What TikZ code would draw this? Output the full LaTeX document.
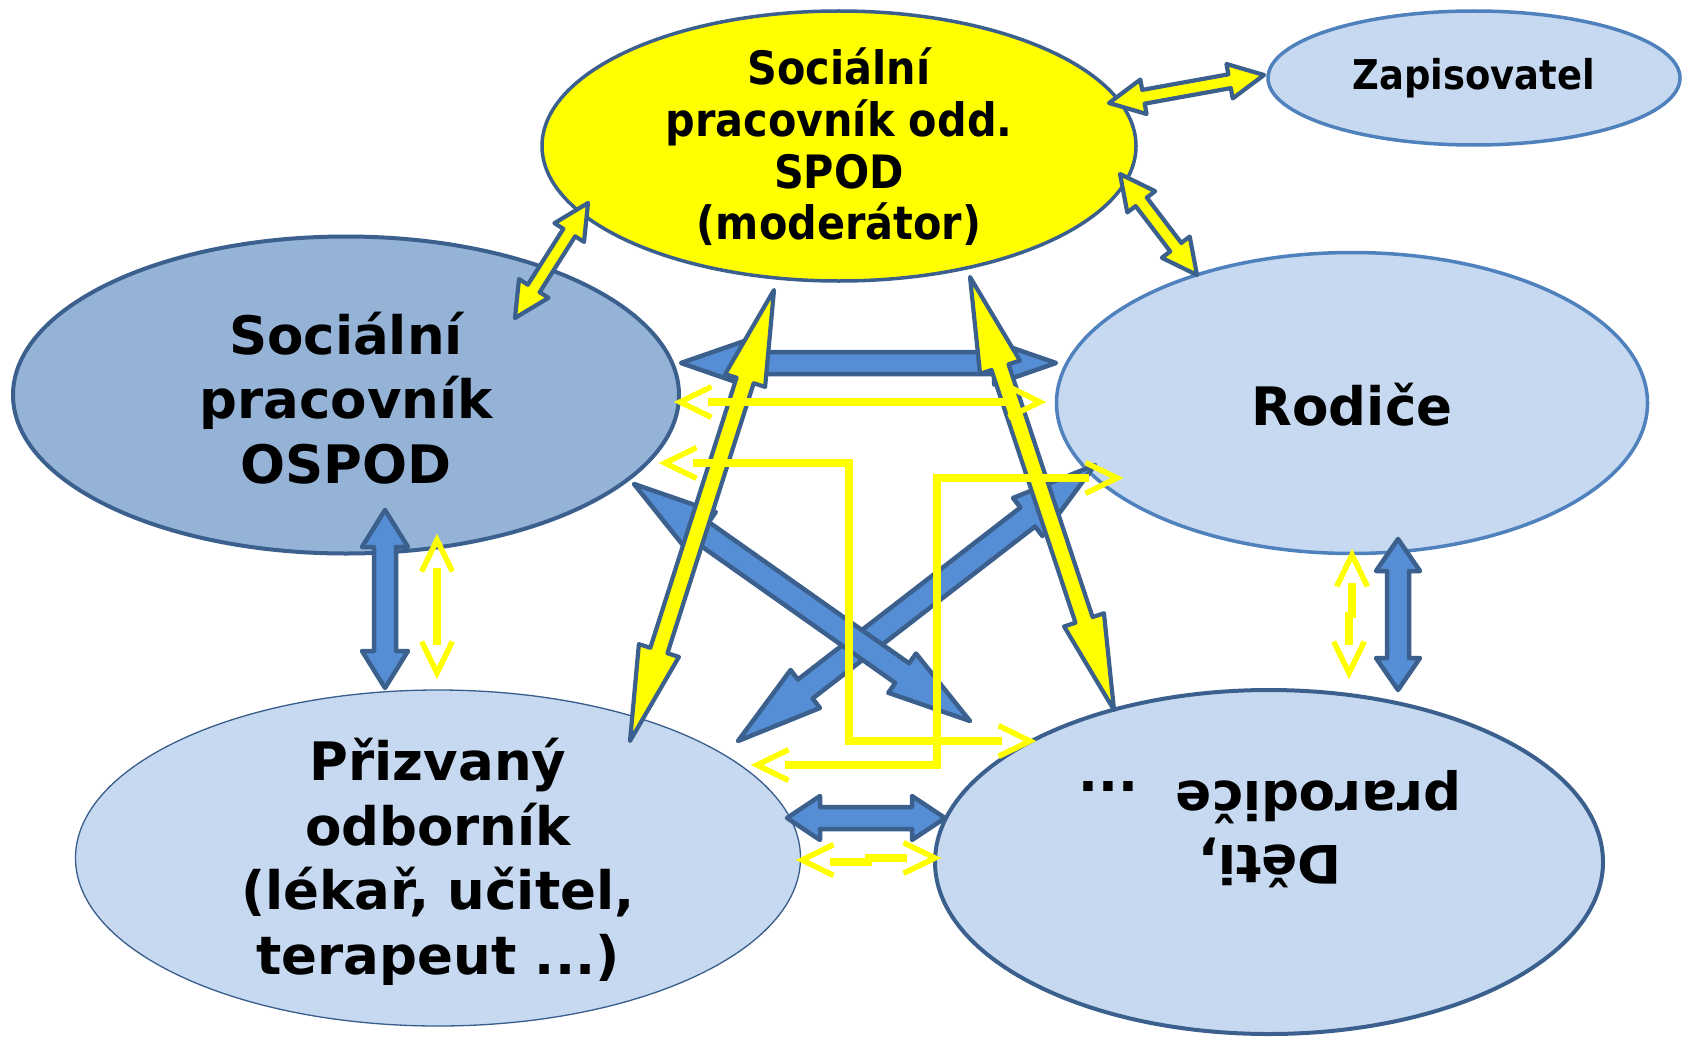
\documentclass[tikz,border=0pt]{standalone}
\usepackage{fontspec}
\setmainfont{DejaVu Sans}
\newfontfamily\condfont{DejaVu Sans Condensed}
\usetikzlibrary{calc,shapes.geometric}

\definecolor{bdark}{HTML}{3C608E}
\definecolor{bfill}{HTML}{558ED5}
\definecolor{ylw}{HTML}{FFFF00}
\definecolor{lightb}{HTML}{C6D9F1}
\definecolor{midb}{HTML}{95B3D7}
\definecolor{edgeb}{HTML}{4F81BD}
\definecolor{thinb}{HTML}{385D8A}

% #1 style, #2 from, #3 to, #4 shaft half width, #5 head half width, #6 head length
\newcommand\blockarrow[6]{%
  \coordinate (bap) at ($(#2)!#6!(#3)$);
  \coordinate (baq) at ($(#3)!#6!(#2)$);
  \path[#1] (#2) -- ($(bap)!#5!90:(#3)$) -- ($(bap)!#4!90:(#3)$)
    -- ($(baq)!#4!-90:(#2)$) -- ($(baq)!#5!-90:(#2)$) -- (#3)
    -- ($(baq)!#5!90:(#2)$) -- ($(baq)!#4!90:(#2)$)
    -- ($(bap)!#4!-90:(#3)$) -- ($(bap)!#5!-90:(#3)$) -- cycle;
}
% open chevron: tip #1, opening toward #2
\newcommand\chev[2]{%
  \draw[ychev] ($(#1)!35pt!26:(#2)$) -- (#1) -- ($(#1)!35pt!-26:(#2)$);
}

\begin{document}
\begin{tikzpicture}[x=1pt,y=-1pt,
  ell/.style={ellipse, inner sep=0pt, outer sep=0pt},
  btxt/.style={font=\bfseries\fontsize{53}{64.5}\selectfont, align=center, text=black, inner sep=0pt},
  ctxt/.style={font=\condfont\bfseries\fontsize{46}{51.6}\selectfont, align=center, text=black, inner sep=0pt},
  bluearr/.style={fill=bfill, draw=bdark, line width=4.5pt, line join=round},
  yblock/.style={fill=ylw, draw=bdark, line width=4.2pt, line join=round},
  yshaft/.style={draw=ylw, line width=7.3pt},
  ychev/.style={draw=ylw, line width=5.5pt, line join=miter},
]
\fill[white] (0,0) rectangle (1685,1038);
\useasboundingbox (0,0) rectangle (1685,1038);

% ---------- ellipses ----------
\node[ell, minimum width=594pt, minimum height=270pt, fill=ylw, draw=bdark, line width=3.5pt] (spod) at (839,146) {};
\node[ell, minimum width=412pt, minimum height=134pt, fill=lightb, draw=edgeb, line width=3.5pt] (zap) at (1474,78) {};
\node[ell, minimum width=666pt, minimum height=317pt, fill=midb, draw=bdark, line width=4pt] (ospod) at (346,395) {};
\node[ell, minimum width=591pt, minimum height=301pt, fill=lightb, draw=edgeb, line width=3.5pt] (rod) at (1352,403) {};
\node[ell, minimum width=725pt, minimum height=336pt, fill=lightb, draw=thinb, line width=1.3pt] (priz) at (438,858) {};
\node[ell, minimum width=668pt, minimum height=344pt, fill=lightb, draw=bdark, line width=4pt] (deti) at (1269,862) {};

% ---------- texts ----------
\node[ctxt] (spodt) at (839,147) {Sociální\\pracovník odd.\\SPOD\\(moderátor)};
\node[ctxt, font=\condfont\bfseries\fontsize{41}{48}\selectfont] (zapt) at (1474,78) {Zapisovatel};
\node[btxt] (ospodt) at (346,398) {Sociální\\pracovník\\OSPOD};
\node[btxt] (rodt) at (1352,405) {Rodiče};
\node[btxt] (prizt) at (438,862) {Přizvaný\\odborník\\(lékař, učitel,\\terapeut ...)};
\node[btxt, rotate=180] (detit) at (1270,829) {Děti,\\prarodiče~~...};

% ---------- connector end points ----------
\coordinate (d1) at (681,363);  \coordinate (d2) at (1056,363);
\coordinate (e1) at (634,484);  \coordinate (e2) at (970,721);
\coordinate (f1) at (1095,465); \coordinate (f2) at (738,741);
\coordinate (g1) at (385,510);  \coordinate (g2) at (385,688);
\coordinate (h1) at (1398,539); \coordinate (h2) at (1398,690);
\coordinate (i1) at (787,818);  \coordinate (i2) at (945,818);
\coordinate (a1) at (1109,103); \coordinate (a2) at (1264,75);
\coordinate (b1) at (588,203);  \coordinate (b2) at (515,318);
\coordinate (c1) at (1120,174); \coordinate (c2) at (1197,275);
\coordinate (j1) at (774,290);  \coordinate (j2) at (630,741);
\coordinate (k1) at (970,277);  \coordinate (k2) at (1114,710);

% ---------- blue block arrows ----------
\blockarrow{bluearr}{f1}{f2}{12pt}{24pt}{85pt}
\blockarrow{bluearr}{e1}{e2}{12pt}{24pt}{83pt}
\blockarrow{bluearr}{d1}{d2}{11pt}{21.5pt}{62pt}
\blockarrow{bluearr}{g1}{g2}{11pt}{23pt}{37pt}
\blockarrow{bluearr}{h1}{h2}{11pt}{22pt}{32pt}
\blockarrow{bluearr}{i1}{i2}{11pt}{22pt}{33pt}

% ---------- yellow block arrows ----------
\blockarrow{yblock}{a1}{a2}{7pt}{17.5pt}{35pt}
\blockarrow{yblock}{b1}{b2}{7pt}{17.5pt}{35pt}
\blockarrow{yblock}{c1}{c2}{7pt}{17.5pt}{35pt}
\blockarrow{yblock}{j1}{j2}{9pt}{21pt}{95pt}
\blockarrow{yblock}{k1}{k2}{9pt}{21pt}{95pt}

% ---------- thin yellow arrows ----------
% OSPOD <-> Prizvany
\coordinate (y1a) at (437,540); \coordinate (y1b) at (437,673);
\chev{y1a}{y1b} \chev{y1b}{y1a}
\draw[yshaft] ($(y1a)!28pt!(y1b)$) -- ($(y1b)!28pt!(y1a)$);
% Rodice <-> Deti
\coordinate (y2a) at (1352,555); \coordinate (y2b) at (1349,673);
\chev{y2a}{1352,673} \chev{y2b}{1349,555}
\draw[yshaft] (1352,583) -- (1352,618);
\draw[yshaft] (1349,612) -- (1349,645);
% Prizvany <-> Deti
\coordinate (y3a) at (802,860); \coordinate (y3b) at (935,858);
\chev{y3a}{935,860} \chev{y3b}{802,858}
\draw[yshaft] (830,862) -- (872,862);
\draw[yshaft] (865,858) -- (907,858);
% OSPOD <-> Rodice
\coordinate (y4a) at (680,402); \coordinate (y4b) at (1040,402);
\chev{y4a}{y4b} \chev{y4b}{y4a}
\draw[yshaft] ($(y4a)!28pt!(y4b)$) -- ($(y4b)!28pt!(y4a)$);
% OSPOD <-> Deti (elbow)
\coordinate (y5a) at (665,463); \coordinate (y5c) at (849,463);
\coordinate (y5d) at (849,741); \coordinate (y5b) at (1030,741);
\chev{y5a}{y5c} \chev{y5b}{y5d}
\draw[yshaft] ($(y5a)!28pt!(y5c)$) -- (y5c) -- (y5d) -- ($(y5b)!28pt!(y5d)$);
% Rodice <-> Prizvany (elbow)
\coordinate (y6a) at (1117,478); \coordinate (y6c) at (937,478);
\coordinate (y6d) at (937,765); \coordinate (y6b) at (757,765);
\chev{y6a}{y6c} \chev{y6b}{y6d}
\draw[yshaft] ($(y6a)!28pt!(y6c)$) -- (y6c) -- (y6d) -- ($(y6b)!28pt!(y6d)$);
\end{tikzpicture}
\end{document}
